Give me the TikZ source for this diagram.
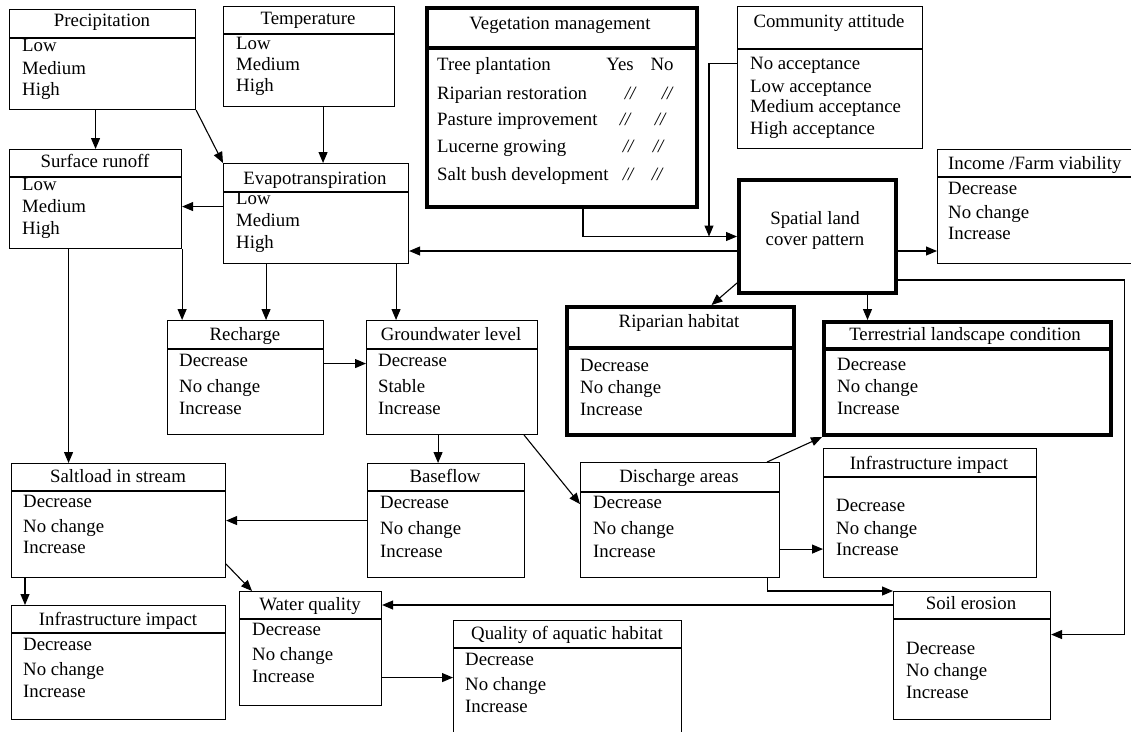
\documentclass[tikz,border=0pt]{standalone}
\usepackage{fontspec}
\setmainfont{Liberation Serif}
\usetikzlibrary{arrows.meta}

\tikzset{
  box/.style={draw,line width=1.1pt,anchor=north west,inner sep=0pt},
  thickbox/.style={box,line width=4pt},
  head/.style={anchor=mid,inner sep=0pt},
  entry/.style={anchor=mid west,inner sep=0pt},
  arr/.style={line width=1.1pt,-{Triangle[length=11pt,width=9pt]}},
}

\begin{document}
\begin{tikzpicture}[x=1pt,y=-1pt,every node/.style={font=\fontsize{18.8}{21}\selectfont}]
\useasboundingbox (0,0) rectangle (1131,731);
\clip (0,0) rectangle (1131,731);

% drivers
\node[box,minimum width=186pt,minimum height=100pt] (prec) at (9,9) {};
\draw[line width=1.1pt] ([yshift=-29pt]prec.north west) -- ([yshift=-29pt]prec.north east);
\node[head] (prec-t) at (102,24) {Precipitation};
\node[entry] (prec-1) at (22,49) {Low};
\node[entry] (prec-2) at (22,72) {Medium};
\node[entry] (prec-3) at (22,93) {High};

\node[box,minimum width=171pt,minimum height=100pt] (temp) at (223,6) {};
\draw[line width=1.1pt] ([yshift=-28pt]temp.north west) -- ([yshift=-28pt]temp.north east);
\node[head] (temp-t) at (308,22) {Temperature};
\node[entry] (temp-1) at (236,47) {Low};
\node[entry] (temp-2) at (236,68) {Medium};
\node[entry] (temp-3) at (236,89) {High};

\node[thickbox,minimum width=270pt,minimum height=199pt] (veg) at (425,6) {};
\draw[line width=4pt] ([yshift=-42pt]veg.north west) -- ([yshift=-42pt]veg.north east);
\node[head] (veg-t) at (560,27) {Vegetation management};
\node[entry] (veg-1) at (437,68) {Tree plantation};
\node[entry] (veg-2) at (437,97) {Riparian restoration};
\node[entry] (veg-3) at (437,123) {Pasture improvement};
\node[entry] (veg-4) at (437,150) {Lucerne growing};
\node[entry] (veg-5) at (437,178) {Salt bush development};
\node[head] (veg-yes) at (620,68) {Yes};
\node[head] (veg-no) at (662,68) {No};
\foreach \y/\a/\b [count=\i] in {97/630/667,123/625/660,150/628/658,178/628/657}{
  \node[head] (veg-a\i) at (\a,\y) {\itshape //};
  \node[head] (veg-b\i) at (\b,\y) {\itshape //};
}

\node[box,minimum width=185pt,minimum height=142pt] (comm) at (737,6) {};
\draw[line width=1.1pt] ([yshift=-43pt]comm.north west) -- ([yshift=-43pt]comm.north east);
\node[head] (comm-t) at (829,25) {Community attitude};
\node[entry] (comm-1) at (750,67) {No acceptance};
\node[entry] (comm-2) at (750,90) {Low acceptance};
\node[entry] (comm-3) at (750,110) {Medium acceptance};
\node[entry] (comm-4) at (750,132) {High acceptance};

% water balance
\node[box,minimum width=172pt,minimum height=99pt] (surf) at (9,149) {};
\draw[line width=1.1pt] ([yshift=-28pt]surf.north west) -- ([yshift=-28pt]surf.north east);
\node[head] (surf-t) at (95,165) {Surface runoff};
\node[entry] (surf-1) at (22,188) {Low};
\node[entry] (surf-2) at (22,210) {Medium};
\node[entry] (surf-3) at (22,232) {High};

\node[box,minimum width=185pt,minimum height=100pt] (evap) at (223,163) {};
\draw[line width=1.1pt] ([yshift=-29pt]evap.north west) -- ([yshift=-29pt]evap.north east);
\node[head] (evap-t) at (315,182) {Evapotranspiration};
\node[entry] (evap-1) at (236,202) {Low};
\node[entry] (evap-2) at (236,224) {Medium};
\node[entry] (evap-3) at (236,246) {High};

\node[thickbox,minimum width=157pt,minimum height=113pt] (spat) at (737,178) {};
\node[anchor=center,inner sep=0pt,align=center] (spat-t) at (815,230) {Spatial land\\cover pattern};

\node[box,minimum width=203pt,minimum height=114pt] (inc) at (937,149) {};
\draw[line width=1.1pt] ([yshift=-28pt]inc.north west) -- ([yshift=-28pt]inc.north east);
\node[entry] (inc-t) at (948,167) {Income /Farm viability};
\node[entry] (inc-1) at (948,192) {Decrease};
\node[entry] (inc-2) at (948,216) {No change};
\node[entry] (inc-3) at (948,237) {Increase};

\node[box,minimum width=156pt,minimum height=114pt] (rech) at (167,320) {};
\draw[line width=1.1pt] ([yshift=-29pt]rech.north west) -- ([yshift=-29pt]rech.north east);
\node[head] (rech-t) at (245,338) {Recharge};
\node[entry] (rech-1) at (179,364) {Decrease};
\node[entry] (rech-2) at (179,390) {No change};
\node[entry] (rech-3) at (179,412) {Increase};

\node[box,minimum width=171pt,minimum height=114pt] (gw) at (366,320) {};
\draw[line width=1.1pt] ([yshift=-29pt]gw.north west) -- ([yshift=-29pt]gw.north east);
\node[head] (gw-t) at (451,338) {Groundwater level};
\node[entry] (gw-1) at (378,364) {Decrease};
\node[entry] (gw-2) at (378,390) {Stable};
\node[entry] (gw-3) at (378,412) {Increase};

% landscape outcomes
\node[thickbox,minimum width=227pt,minimum height=128pt] (rip) at (565,305) {};
\draw[line width=4pt] ([yshift=-43pt]rip.north west) -- ([yshift=-43pt]rip.north east);
\node[head] (rip-t) at (679,325) {Riparian habitat};
\node[entry] (rip-1) at (580,369) {Decrease};
\node[entry] (rip-2) at (580,391) {No change};
\node[entry] (rip-3) at (580,413) {Increase};

\node[thickbox,minimum width=287pt,minimum height=113pt] (terr) at (822,320) {};
\draw[line width=4pt] ([yshift=-29pt]terr.north west) -- ([yshift=-29pt]terr.north east);
\node[head] (terr-t) at (965,338) {Terrestrial landscape condition};
\node[entry] (terr-1) at (837,368) {Decrease};
\node[entry] (terr-2) at (837,390) {No change};
\node[entry] (terr-3) at (837,412) {Increase};

\node[box,minimum width=214pt,minimum height=114pt] (salt) at (11,463) {};
\draw[line width=1.1pt] ([yshift=-28pt]salt.north west) -- ([yshift=-28pt]salt.north east);
\node[head] (salt-t) at (118,480) {Saltload in stream};
\node[entry] (salt-1) at (23,505) {Decrease};
\node[entry] (salt-2) at (23,530) {No change};
\node[entry] (salt-3) at (23,551) {Increase};

\node[box,minimum width=157pt,minimum height=114pt] (base) at (367,463) {};
\draw[line width=1.1pt] ([yshift=-28pt]base.north west) -- ([yshift=-28pt]base.north east);
\node[head] (base-t) at (445,480) {Baseflow};
\node[entry] (base-1) at (380,506) {Decrease};
\node[entry] (base-2) at (380,532) {No change};
\node[entry] (base-3) at (380,555) {Increase};

\node[box,minimum width=199pt,minimum height=115pt] (disc) at (580,462) {};
\draw[line width=1.1pt] ([yshift=-30pt]disc.north west) -- ([yshift=-30pt]disc.north east);
\node[head] (disc-t) at (679,480) {Discharge areas};
\node[entry] (disc-1) at (593,506) {Decrease};
\node[entry] (disc-2) at (593,532) {No change};
\node[entry] (disc-3) at (593,555) {Increase};

\node[box,minimum width=213pt,minimum height=129pt] (infr) at (823,448) {};
\draw[line width=1.1pt] ([yshift=-29pt]infr.north west) -- ([yshift=-29pt]infr.north east);
\node[head] (infr-t) at (929,467) {Infrastructure impact};
\node[entry] (infr-1) at (836,509) {Decrease};
\node[entry] (infr-2) at (836,532) {No change};
\node[entry] (infr-3) at (836,553) {Increase};

\node[box,minimum width=214pt,minimum height=114pt] (infl) at (11,605) {};
\draw[line width=1.1pt] ([yshift=-28pt]infl.north west) -- ([yshift=-28pt]infl.north east);
\node[head] (infl-t) at (118,623) {Infrastructure impact};
\node[entry] (infl-1) at (23,648) {Decrease};
\node[entry] (infl-2) at (23,673) {No change};
\node[entry] (infl-3) at (23,695) {Increase};

\node[box,minimum width=142pt,minimum height=114pt] (wq) at (239,591) {};
\draw[line width=1.1pt] ([yshift=-28pt]wq.north west) -- ([yshift=-28pt]wq.north east);
\node[head] (wq-t) at (310,608) {Water quality};
\node[entry] (wq-1) at (252,633) {Decrease};
\node[entry] (wq-2) at (252,658) {No change};
\node[entry] (wq-3) at (252,680) {Increase};

\node[box,minimum width=228pt,minimum height=125pt] (aq) at (453,620) {};
\draw[line width=1.1pt] ([yshift=-28pt]aq.north west) -- ([yshift=-28pt]aq.north east);
\node[head] (aq-t) at (567,637) {Quality of aquatic habitat};
\node[entry] (aq-1) at (465,663) {Decrease};
\node[entry] (aq-2) at (465,688) {No change};
\node[entry] (aq-3) at (465,710) {Increase};

\node[box,minimum width=157pt,minimum height=128pt] (soil) at (893,591) {};
\draw[line width=1.1pt] ([yshift=-28pt]soil.north west) -- ([yshift=-28pt]soil.north east);
\node[head] (soil-t) at (971,607) {Soil erosion};
\node[entry] (soil-1) at (906,652) {Decrease};
\node[entry] (soil-2) at (906,674) {No change};
\node[entry] (soil-3) at (906,696) {Increase};

% links
\draw[arr] (surf.north|-prec.south) -- (surf.north);
\draw[arr] (prec.south east) -- (evap.north west);
\draw[arr] ([xshift=14pt]temp.south) -- ([xshift=14pt]temp.south|-evap.north);
\draw[arr] ([yshift=7pt]evap.west) -- ([yshift=7pt]evap.west-|surf.east);
\draw[arr] ([yshift=-14.5pt]spat.west) -- ([yshift=-14.5pt]spat.west-|evap.east);
\draw[arr] ([xshift=21pt]veg.south) |- (spat.west);
\draw[arr] ([yshift=14pt]comm.west) -| ([xshift=-28pt]comm.west|-spat.west);
\draw[arr] ([yshift=-14.5pt]spat.east) -- ([yshift=-14.5pt]spat.east-|inc.west);
\draw[arr] ([yshift=-43.5pt]spat.east) -| ([xshift=73pt,yshift=21pt]soil.east) -- ([yshift=21pt]soil.east);
\draw[arr] ([yshift=12pt]spat.south west) -- ([xshift=31pt]rip.north);
\draw[arr] ([xshift=50pt]spat.south) -- ([xshift=50pt]spat.south|-terr.north);
\draw[arr] ([xshift=-27pt]surf.south) -- ([xshift=-27pt]surf.south|-salt.north);
\draw[arr] (surf.south east) -- (surf.south east|-rech.north);
\draw[arr] ([xshift=-50pt]evap.south) -- ([xshift=-50pt]evap.south|-rech.north);
\draw[arr] ([xshift=80pt]evap.south) -- ([xshift=80pt]evap.south|-gw.north);
\draw[arr] ([yshift=14pt]rech.east) -- ([yshift=14pt]rech.east-|gw.west);
\draw[arr] ([xshift=-14pt]gw.south) -- ([xshift=-14pt]gw.south|-base.north);
\draw[arr] ([xshift=-14pt]gw.south east) -- ([yshift=16pt]disc.west);
\draw[arr] (base.west) -- (base.west-|salt.east);
\draw[arr] ([xshift=-13pt]disc.north east) -- (terr.south west);
\draw[arr] ([yshift=-29pt]disc.east) -- ([yshift=-29pt]disc.east-|infr.west);
\draw[arr] ([xshift=-13pt]disc.south east) |- (soil.north west);
\draw[arr] ([yshift=-14pt]soil.north west) -- ([yshift=-14pt]soil.north west-|wq.east);
\draw[arr] ([xshift=14pt]salt.south west) -- ([xshift=14pt]salt.south west|-infl.north);
\draw[arr] ([yshift=14pt]salt.south east) -- ([xshift=13pt]wq.north west);
\draw[arr] ([yshift=-29pt]wq.east) -- ([yshift=-29pt]wq.east-|aq.west);
\end{tikzpicture}
\end{document}
